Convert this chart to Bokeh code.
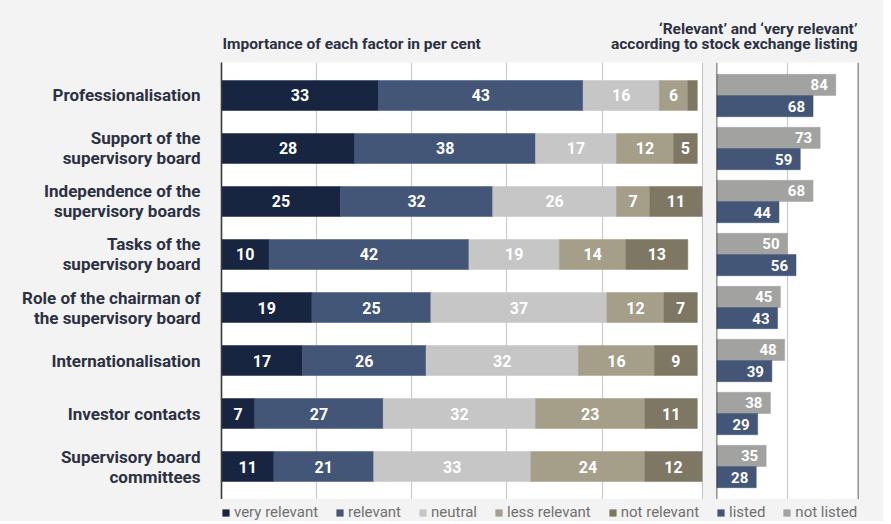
import numpy as np
from bokeh.plotting import figure
from bokeh.layouts import column, row
from bokeh.models import (FactorRange, Range1d, ColumnDataSource, Legend, LegendItem,
                          Span, Label)
from bokeh.transform import dodge
from bokeh.core.properties import value
from bokeh.embed import file_html
from bokeh.resources import INLINE

# ---------------- data ----------------
factors = [
    "Professionalisation",
    "Support of the\nsupervisory board",
    "Independence of the\nsupervisory boards",
    "Tasks of the\nsupervisory board",
    "Role of the chairman of\nthe supervisory board",
    "Internationalisation",
    "Investor contacts",
    "Supervisory board\ncommittees",
]
very_relevant = [33, 28, 25, 10, 19, 17, 7, 11]
relevant      = [43, 38, 32, 42, 25, 26, 27, 21]
neutral       = [16, 17, 26, 19, 37, 32, 32, 33]
less_relevant = [6, 12, 7, 14, 12, 16, 23, 24]
not_relevant  = [2, 5, 11, 13, 7, 9, 11, 12]
listed        = [68, 59, 44, 56, 43, 39, 29, 28]
not_listed    = [84, 73, 68, 50, 45, 48, 38, 35]
series_names = ["very relevant", "relevant", "neutral", "less relevant", "not relevant"]
left_title = "Importance of each factor in per cent"
right_title = ["\u2018Relevant\u2019 and \u2018very relevant\u2019", "according to stock exchange listing"]

# ---------------- style ----------------
BG = "#f3f3f3"
TXT = "#2b3142"
colors = ["#182540", "#435677", "#c6c6c6", "#a59f8a", "#7e7763"]
c_listed, c_not_listed = "#435677", "#a2a3a1"
FONT = "Roboto"
LEG_FONT = "Roboto"

keys = ["s0", "s1", "s2", "s3", "s4"]
data = dict(factor=factors)
for k, vals in zip(keys, [very_relevant, relevant, neutral, less_relevant, not_relevant]):
    data[k] = vals
data["listed"] = listed
data["not_listed"] = not_listed
data["listed_txt"] = [str(v) for v in listed]
data["not_listed_txt"] = [str(v) for v in not_listed]
src = ColumnDataSource(data)

y_range = FactorRange(factors=list(reversed(factors)), range_padding=0.1226,
                      range_padding_units="absolute")

# ---------------- header ----------------
p0 = figure(width=883, height=62, x_range=Range1d(0, 883), y_range=Range1d(0, 62),
            output_backend="svg", toolbar_location=None, min_border=0)
p0.axis.visible = False
p0.grid.visible = False
p0.outline_line_color = None
p0.background_fill_color = BG
p0.border_fill_color = BG
hdr = dict(text_font=FONT, text_font_style="bold", text_font_size="15.5px",
           text_color=TXT, text_baseline="alphabetic")
p0.add_layout(Label(x=222, y=18.7, text=left_title, text_align="left", **hdr))
p0.add_layout(Label(x=857, y=33.7, text=right_title[0], text_align="right", **hdr))
p0.add_layout(Label(x=857, y=18.7, text=right_title[1], text_align="right", **hdr))

H = 437

# ---------------- left panel ----------------
p1 = figure(width=703, height=H, x_range=Range1d(0, 101.3), y_range=y_range,
            output_backend="svg", toolbar_location=None,
            min_border_left=221, min_border_right=0, min_border_top=0, min_border_bottom=0)
p1.background_fill_color = "white"
p1.border_fill_color = BG
p1.outline_line_color = None
p1.xaxis.visible = False
p1.xgrid.ticker = [20, 40, 60, 80]
p1.ygrid.visible = False
p1.xgrid.grid_line_color = "#cccccc"
p1.xgrid.grid_line_width = 1.2
yax = p1.yaxis[0]
yax.axis_line_color = "#3a3a3a"
yax.axis_line_width = 1.6
yax.major_tick_line_color = None
yax.minor_tick_line_color = None
yax.major_label_standoff = 15
yax.major_label_text_font = FONT
yax.major_label_text_font_style = "bold"
yax.major_label_text_font_size = "17px"
yax.major_label_text_color = TXT
yax.major_label_text_line_height = 1.0

bars = p1.hbar_stack(keys, y="factor", height=0.566, color=colors, line_width=0.5,
                     source=src)

stack = np.array([very_relevant, relevant, neutral, less_relevant, not_relevant], dtype=float)
cum = stack.cumsum(axis=0)
mids = cum - stack / 2
lx, ly, lt = [], [], []
for i in range(stack.shape[0]):
    for j, f in enumerate(factors):
        if stack[i, j] >= 5:
            lx.append(mids[i, j]); ly.append(f); lt.append(str(int(stack[i, j])))
lab_src = ColumnDataSource(dict(x=lx, y=ly, t=lt))
p1.text(x="x", y="y", text="t", source=lab_src, text_color="white",
        text_font=value(FONT), text_font_style="bold", text_font_size="16px",
        text_align="center", text_baseline="middle")

p1.add_layout(Span(location=101.3, dimension="height", line_color="#3a3a3a", line_width=1.6))

# ---------------- right panel ----------------
p2 = figure(width=180, height=H, x_range=Range1d(0, 100), y_range=y_range,
            output_backend="svg", toolbar_location=None,
            min_border_left=13, min_border_right=25, min_border_top=0, min_border_bottom=0)
p2.background_fill_color = "white"
p2.border_fill_color = BG
p2.outline_line_color = None
p2.xaxis.visible = False
p2.yaxis.visible = False
p2.xgrid.ticker = [50]
p2.ygrid.visible = False
p2.xgrid.grid_line_color = "#cccccc"
p2.xgrid.grid_line_width = 1.2

p2.hbar(y=dodge("factor", 0.2, range=y_range), left=0, right="not_listed",
        height=0.4, color=c_not_listed, line_width=0.5, source=src)
p2.hbar(y=dodge("factor", -0.2, range=y_range), left=0, right="listed",
        height=0.4, color=c_listed, line_width=0.5, source=src)
tx = dict(text_color="white", text_font=value(FONT), text_font_style="bold",
          text_font_size="15px", text_align="right", text_baseline="middle", x_offset=-8)
p2.text(x="not_listed", y=dodge("factor", 0.2, range=y_range), text="not_listed_txt",
        source=src, **tx)
p2.text(x="listed", y=dodge("factor", -0.2, range=y_range), text="listed_txt",
        source=src, **tx)
p2.add_layout(Span(location=0, dimension="height", line_color="#3a3a3a", line_width=1.6))
p2.add_layout(Span(location=100, dimension="height", line_color="#3a3a3a", line_width=1.6))

# ---------------- legend strip ----------------
# swatch renderers draw the real series off the visible range (legend only)
p3 = figure(width=883, height=22, x_range=Range1d(-1, 0), y_range=Range1d(0, 1),
            output_backend="svg", toolbar_location=None, min_border=0)
p3.axis.visible = False
p3.grid.visible = False
p3.outline_line_color = None
p3.background_fill_color = BG
p3.border_fill_color = BG
leg_common = dict(orientation="horizontal", glyph_width=9, glyph_height=9,
                  label_standoff=4, spacing=17, padding=0, margin=0,
                  border_line_color=None, background_fill_alpha=0,
                  label_text_font=LEG_FONT, label_text_font_size="15px",
                  label_text_color="#707070", label_height=15)
sw = [p3.hbar(y=0.5, left=0, right=k, height=1, fill_color=c, line_color=None, source=src)
      for k, c in zip(keys, colors)]
sw_l = p3.hbar(y=0.5, left=0, right="listed", height=1, fill_color=c_listed,
               line_color=None, source=src)
sw_nl = p3.hbar(y=0.5, left=0, right="not_listed", height=1, fill_color=c_not_listed,
                line_color=None, source=src)
leg1 = Legend(items=[LegendItem(label=n, renderers=[r]) for n, r in zip(series_names, sw)],
              location=(221, 0), **leg_common)
leg2 = Legend(items=[LegendItem(label="listed", renderers=[sw_l]),
                     LegendItem(label="not listed", renderers=[sw_nl])],
              location=(716, 0), **leg_common)
p3.add_layout(leg1)
p3.add_layout(leg2)

layout = column(p0, row(p1, p2), p3, styles={"background": BG})

html = file_html(layout, INLINE, title="chart")
html = html.replace("<body>", '<body style="background:%s; overflow:hidden;">' % BG, 1)
open("out.html", "w").write(html)
